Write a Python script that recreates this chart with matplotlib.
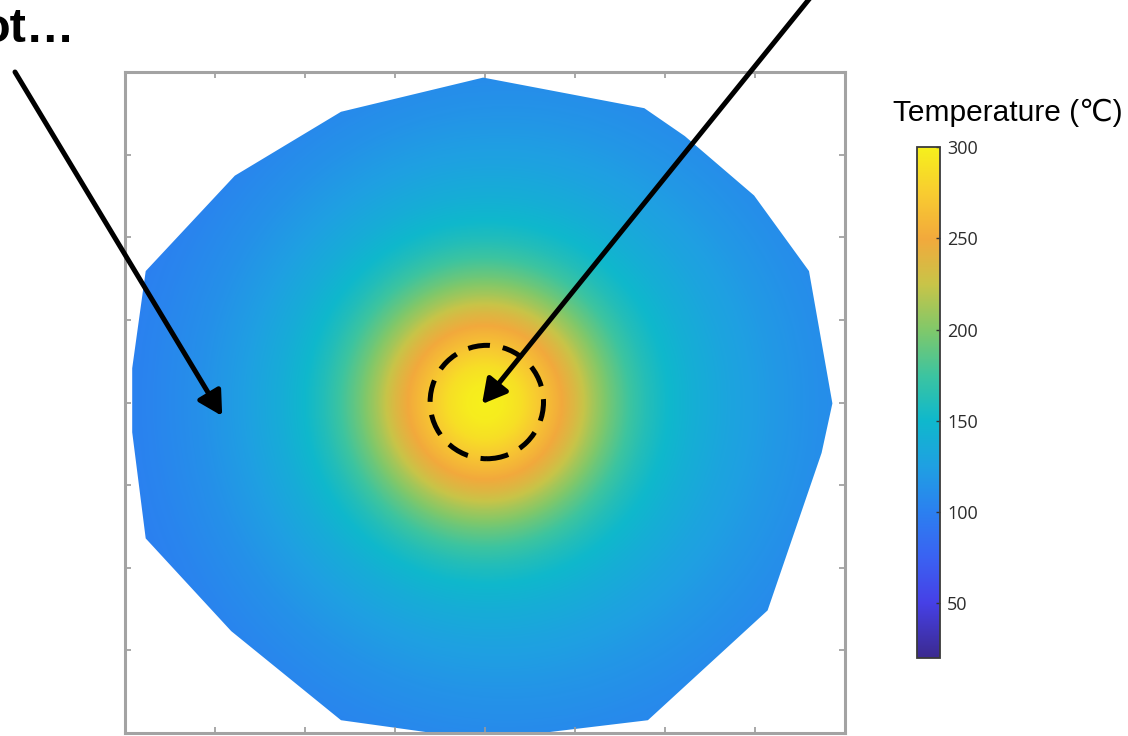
import numpy as np
import matplotlib
matplotlib.use('Agg')
import matplotlib.pyplot as plt
from matplotlib.colors import LinearSegmentedColormap, Normalize
from matplotlib.patches import Polygon, Circle

# ---------------- data ----------------
radius_mm = [0, 2, 4, 6, 8, 10, 12, 14, 16, 18, 20, 23, 27, 32, 37, 42]
temp_west = [300, 297, 288, 272, 255, 236, 213, 193, 176, 161, 150, 137, 124, 112, 104, 98]
temp_east = [300, 297, 288, 272, 255, 236, 213, 193, 176, 162, 152, 141, 130, 120, 112, 106]

boundary_x = [-0.2, -16.0, -27.8, -37.7, -39.2, -39.2, -37.7, -28.2, -16.0, -0.2,
              18.1, 31.4, 37.4, 38.6, 36.0, 29.9, 22.2, 17.7]
boundary_y = [36.1, 32.3, 25.2, 14.6, 3.8, -3.3, -15.1, -25.4, -35.3, -37.5,
              -35.3, -23.1, -5.6, -0.1, 14.6, 23.0, 29.6, 32.7]

spot_center = (0.2, 0.05)
spot_radius = 6.3

t_min, t_max = 20, 300
cbar_ticks = [50, 100, 150, 200, 250, 300]
cmap_levels = [20, 50, 75, 100, 125, 150, 175, 200, 225, 250, 275, 300]
cmap_colors = ['#3b2a8f', '#4640e6', '#3a62f2', '#2b80f0', '#1fa0e2', '#0fb8cc',
               '#3cc4a0', '#80c86a', '#c8c448', '#f2a93c', '#f8cc30', '#f6f01c']

title_text = 'Temperature (℃)'
corner_text = 'ot…'

# ---------------- figure ----------------
W, H = 1128, 736
fig = plt.figure(figsize=(W / 100, H / 100), dpi=100)
fig.patch.set_facecolor('white')

pos = [(c - t_min) / (t_max - t_min) for c in cmap_levels]
cmap = LinearSegmentedColormap.from_list('tempmap', list(zip(pos, cmap_colors)), N=512)
norm = Normalize(t_min, t_max)

ax = fig.add_axes([125 / W, 3 / H, 720 / W, 661 / H])
xlim = (-40, 40)
ylim = (-36.72, 36.72)

xs = np.linspace(xlim[0], xlim[1], 801)
ys = np.linspace(ylim[0], ylim[1], 735)
X, Y = np.meshgrid(xs, ys)
R = np.hypot(X, Y)
w_east = (1 + X / np.maximum(R, 1e-9)) / 2
T = (1 - w_east) * np.interp(R, radius_mm, temp_west) + w_east * np.interp(R, radius_mm, temp_east)

im = ax.imshow(T, extent=(xlim[0], xlim[1], ylim[0], ylim[1]), origin='lower',
               cmap=cmap, norm=norm, interpolation='bilinear', aspect='auto', zorder=1)
poly = Polygon(np.column_stack([boundary_x, boundary_y]), closed=True,
               facecolor='none', edgecolor='none', transform=ax.transData)
ax.add_patch(poly)
im.set_clip_path(poly)

ax.set_xlim(*xlim)
ax.set_ylim(*ylim)
ax.set_xticks(np.linspace(xlim[0], xlim[1], 9))
ax.set_yticks(np.linspace(ylim[0], ylim[1], 9))
ax.set_xticklabels([])
ax.set_yticklabels([])
ax.tick_params(direction='in', length=4, width=1.2, color='#9a9a9a',
               top=True, right=True, bottom=True, left=True)
for s in ax.spines.values():
    s.set_color('#a3a3a3')
    s.set_linewidth(2.2)

# dashed hot-spot circle
circ = Circle(spot_center, spot_radius, fill=False, edgecolor='black', lw=3.6,
              linestyle=(0, (4.4, 2.6)), zorder=5)
ax.add_patch(circ)

# arrows
arrow_kw = dict(arrowstyle='-|>,head_length=0.4,head_width=0.22', lw=3.6,
                color='black', mutation_scale=36, shrinkA=0, shrinkB=0)
ax.annotate('', xy=(-29.2, -1.5), xycoords='data',
            xytext=(15, H - 72), textcoords='figure pixels',
            arrowprops=arrow_kw, annotation_clip=False, zorder=6)
ax.annotate('', xy=(-0.33, -0.17), xycoords='data',
            xytext=(810, H + 2), textcoords='figure pixels',
            arrowprops=arrow_kw, annotation_clip=False, zorder=6)

# texts
fig.text(-20 / W, (H - 42) / H, corner_text, fontsize=35, fontweight='bold',
         family=['Liberation Sans', 'DejaVu Sans'], va='baseline', ha='left')
fig.text(893 / W, (H - 121) / H, title_text, fontsize=21.5,
         family=['Liberation Sans', 'DejaVu Sans'], va='baseline', ha='left')

# colorbar
cax = fig.add_axes([917 / W, (H - 658) / H, 23 / W, 511 / H])
cb = fig.colorbar(im, cax=cax, ticks=cbar_ticks)
cb.outline.set_edgecolor('#3a3a3a')
cb.outline.set_linewidth(1.3)
cax.tick_params(direction='in', length=3, width=1, color='#333333',
                labelsize=13, labelcolor='#2c2c2c', pad=5)
for lab in cax.get_yticklabels():
    lab.set_family(['Open Sans', 'DejaVu Sans'])

fig.savefig('out.png', dpi=100, facecolor='white')
